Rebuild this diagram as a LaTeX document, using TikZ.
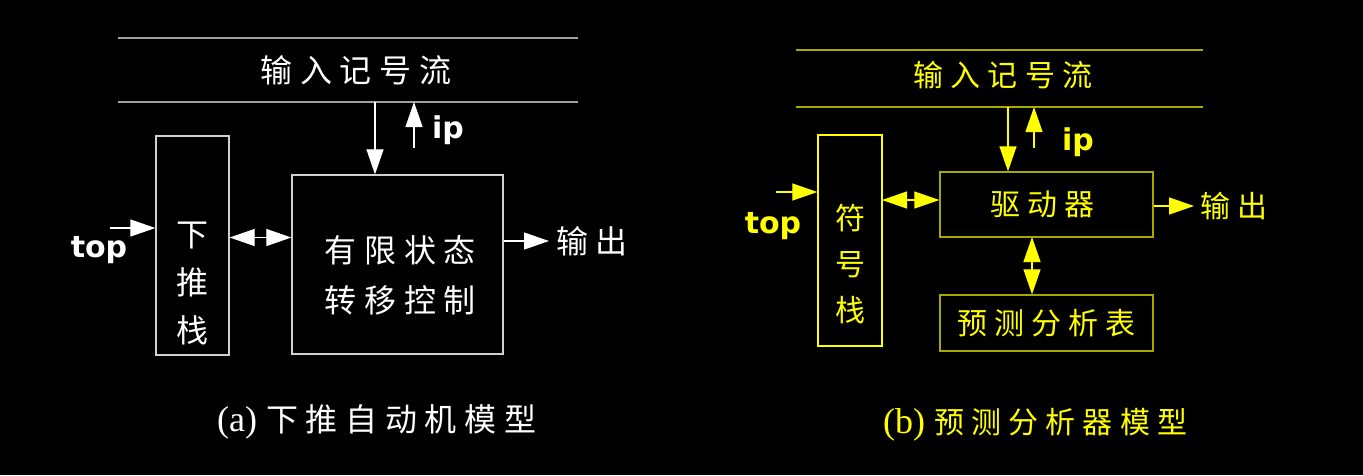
\documentclass[tikz,border=0pt]{standalone}
\usepackage{fontspec}
\setmainfont{Liberation Serif}
\newfontfamily\cjk[LetterSpace=24]{Noto Sans CJK SC}
\newfontfamily\tagfont{DejaVu Sans}
\usetikzlibrary{arrows.meta,positioning}
\definecolor{lineA}{HTML}{A0A0A0}
\definecolor{boxA}{HTML}{D0D0D0}
\definecolor{lineB}{HTML}{A8A800}
\definecolor{yel}{HTML}{FFFF00}

\begin{document}
\begin{tikzpicture}[x=1pt, y=-1pt,
  box/.style={draw, line width=1.3pt, inner sep=0pt},
  txt/.style={font=\cjk\fontsize{32}{48}\selectfont, align=center, inner sep=0pt},
  txtb/.style={font=\cjk\fontsize{30}{46}\selectfont, align=center, inner sep=0pt},
  tag/.style={font=\tagfont\bfseries\fontsize{30}{30}\selectfont, inner sep=0pt},
  captxt/.style={font=\fontsize{36}{36}\selectfont, inner sep=0pt},
  arr/.style={line width=1.2pt, -{Triangle[length=25pt,width=17pt]}},
  dbl/.style={line width=1.2pt, {Triangle[length=25pt,width=17pt]}-{Triangle[length=25pt,width=17pt]}}]
\fill[black] (0,0) rectangle (1363,475);
\useasboundingbox (0,0) rectangle (1363,475);

% (a) push-down automaton
\begin{scope}[white]
\coordinate (lA1) at (118,38);
\coordinate (lA2) at (578,38);
\coordinate (lA3) at (118,102);
\coordinate (lA4) at (578,102);
\draw[lineA, line width=1.3pt] (lA1) -- (lA2) (lA3) -- (lA4);
\node[txt] (inA) at (356,70) {输入记号流};
\node[box, draw=boxA, minimum width=73pt, minimum height=219pt] (stackA) at (192.5,245.5) {};
\node[txt] at ([yshift=-38pt]stackA) {下\\推\\栈};
\node[box, draw=boxA, minimum width=211pt, minimum height=179pt] (ctrl) at (397.5,264.5) {};
\node[txt, font=\cjk\fontsize{32}{50}\selectfont] at ([xshift=3pt,yshift=-11pt]ctrl) {有限状态\\转移控制};
\coordinate (dnA) at (375,102);
\draw[arr] (dnA) -- (dnA |- ctrl.north);
\coordinate (upA) at (414,148);
\draw[arr] (upA) -- (upA |- lA3);
\node[tag] (ipA) at (448,130) {ip};
\coordinate (tA) at (110,228);
\draw[arr] (tA) -- (tA -| stackA.west);
\node[tag] (topA) at (99,250) {top};
\coordinate (dA) at ([yshift=8pt]stackA.east);
\draw[dbl] (dA) -- (dA -| ctrl.west);
\node[txt, anchor=west] (outA) at (556,241) {输出};
\draw[arr] (ctrl.east |- outA) -- ([xshift=-7pt]outA.west);
\node[captxt, anchor=west] (capA) at (217,422) {(a) {\cjk\fontsize{32}{32}\selectfont 下推自动机模型}};
\end{scope}

% (b) predictive parser
\begin{scope}[yel]
\coordinate (lB1) at (796,50);
\coordinate (lB2) at (1203,50);
\coordinate (lB3) at (796,107);
\coordinate (lB4) at (1203,107);
\draw[lineB, line width=1.3pt] (lB1) -- (lB2) (lB3) -- (lB4);
\node[txtb] (inB) at (1003,75) {输入记号流};
\node[box, draw=yel, minimum width=64pt, minimum height=211pt] (stackB) at (850,240.5) {};
\node[txtb] at ([yshift=-24pt]stackB) {符\\号\\栈};
\node[box, draw=lineB, minimum width=213pt, minimum height=65pt] (drv) at (1046.5,204.5) {};
\node[txtb] at ([xshift=-4pt]drv) {驱动器};
\node[box, draw=lineB, minimum width=213pt, minimum height=56pt] (tbl) at (1046.5,323) {};
\node[txtb] at (tbl) {预测分析表};
\coordinate (dnB) at (1008,107);
\draw[arr] (dnB) -- (dnB |- drv.north);
\coordinate (upB) at (1034,148);
\draw[arr] (upB) -- (upB |- lB3);
\node[tag] (ipB) at (1078,142) {ip};
\coordinate (tB) at (776,192);
\draw[arr] (tB) -- (tB -| stackB.west);
\node[tag] (topB) at (773,226) {top};
\coordinate (dB) at (882,200);
\draw[dbl] (dB) -- (dB -| drv.west);
\coordinate (vB) at (1032,237);
\draw[dbl] (vB) -- (vB |- tbl.north);
\node[txtb, anchor=west] (outB) at (1200,206) {输出};
\draw[arr] (drv.east |- outB) -- ([xshift=-6pt]outB.west);
\node[captxt, anchor=west] (capB) at (883,425) {(b) {\cjk\fontsize{30}{30}\selectfont 预测分析器模型}};
\end{scope}
\end{tikzpicture}
\end{document}
